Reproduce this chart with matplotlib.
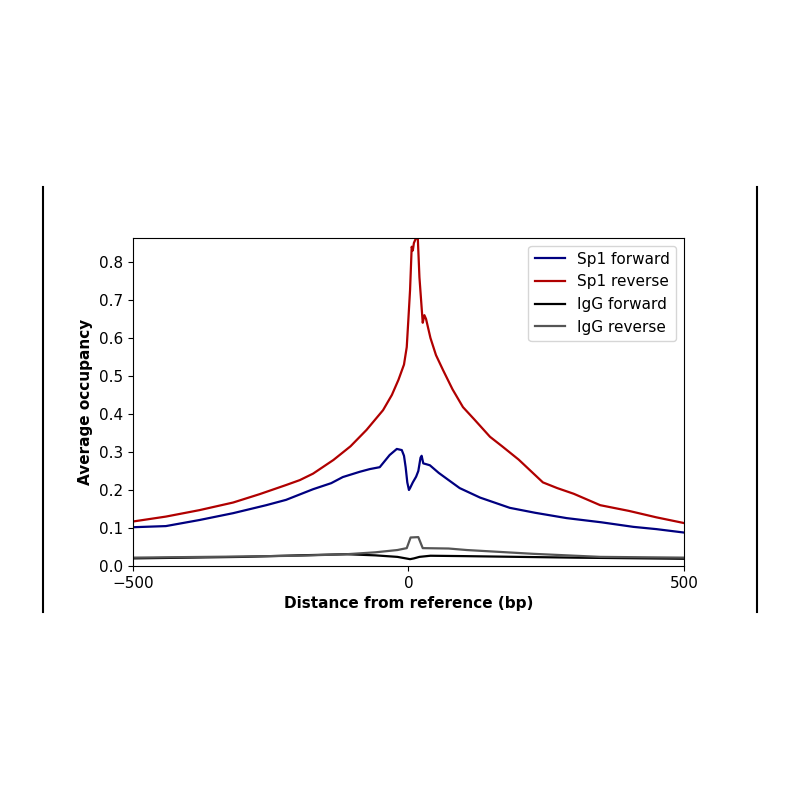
import matplotlib
matplotlib.use('Agg')
import matplotlib.pyplot as plt
from matplotlib.lines import Line2D

# Sp1 reverse
x_sp1_rev = [-500, -440, -379, -318, -270, -222, -197, -173, -136, -105, -76, -46,
             -30, -18, -8, -3, 0, 3, 6, 8, 10, 13, 17, 20, 23, 26, 29, 32, 40, 50, 63,
             80, 99, 120, 148, 170, 200, 244, 270, 300, 348, 400, 450, 500]
y_sp1_rev = [0.117, 0.130, 0.147, 0.167, 0.189, 0.213, 0.226, 0.243, 0.279, 0.315,
             0.358, 0.410, 0.450, 0.490, 0.530, 0.576, 0.650, 0.726, 0.840, 0.830, 0.850,
             0.860, 0.865, 0.760, 0.700, 0.640, 0.660, 0.650, 0.600, 0.555, 0.515, 0.465, 0.418,
             0.385, 0.340, 0.315, 0.280, 0.220, 0.205, 0.190, 0.160, 0.145, 0.128, 0.113]

# Sp1 forward
x_sp1_fwd = [-500, -440, -379, -318, -258, -222, -173, -140, -119, -88, -70, -52,
             -34, -21, -12, -8, -5, -2, 1, 3, 8, 14, 18, 22, 24, 27, 32, 39, 55, 73, 93, 130,
             184, 230, 287, 350, 408, 450, 500]
y_sp1_fwd = [0.102, 0.105, 0.121, 0.139, 0.160, 0.174, 0.202, 0.218, 0.234, 0.248,
             0.255, 0.260, 0.292, 0.308, 0.305, 0.290, 0.260, 0.220, 0.200, 0.205, 0.220, 0.235,
             0.250, 0.285, 0.290, 0.270, 0.268, 0.265, 0.245, 0.226, 0.205, 0.180, 0.153, 0.140,
             0.126, 0.115, 0.103, 0.097, 0.088]

# IgG forward
x_igg_fwd = [-500, -300, -200, -112, -60, -20, 3, 10, 20, 40, 100, 200, 300, 500]
y_igg_fwd = [0.020, 0.024, 0.028, 0.031, 0.028, 0.024, 0.018, 0.020, 0.024, 0.027, 0.026,
             0.024, 0.022, 0.019]

# IgG reverse
x_igg_rev = [-500, -300, -200, -112, -60, -20, -3, 4, 18, 26, 73, 106, 227, 348, 500]
y_igg_rev = [0.022, 0.025, 0.027, 0.031, 0.036, 0.042, 0.047, 0.075, 0.076, 0.047, 0.046,
             0.042, 0.032, 0.024, 0.022]

fig = plt.figure(figsize=(8, 8), dpi=100)
ax = fig.add_axes([0.166, 0.2925, 0.689, 0.41])

ax.plot(x_sp1_fwd, y_sp1_fwd, color='#000080', lw=1.6, label='Sp1 forward')
ax.plot(x_sp1_rev, y_sp1_rev, color='#b00000', lw=1.6, label='Sp1 reverse')
ax.plot(x_igg_fwd, y_igg_fwd, color='black', lw=1.6, label='IgG forward')
ax.plot(x_igg_rev, y_igg_rev, color='#555555', lw=1.6, label='IgG reverse')

ax.set_xlim(-500, 500)
ax.set_ylim(0, 0.863)
ax.set_xticks([-500, 0, 500])
ax.set_yticks([0.0, 0.1, 0.2, 0.3, 0.4, 0.5, 0.6, 0.7, 0.8])
ax.tick_params(labelsize=11)
ax.set_xlabel('Distance from reference (bp)', fontweight='bold', fontsize=11)
ax.set_ylabel('Average occupancy', fontweight='bold', fontsize=11)
ax.legend(loc='upper right', fontsize=11)

# border lines either side of the panel
fig.add_artist(Line2D([0.054, 0.054], [0.235, 0.766], color='black', lw=1.5))
fig.add_artist(Line2D([0.946, 0.946], [0.235, 0.766], color='black', lw=1.5))

fig.savefig('out.png', dpi=100)
